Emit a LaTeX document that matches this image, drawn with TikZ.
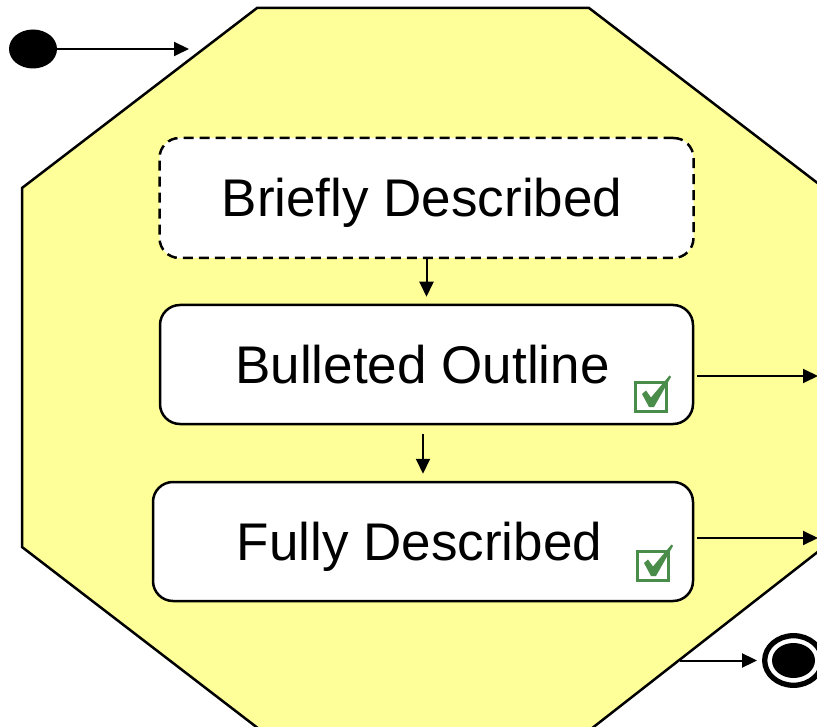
\documentclass[tikz,border=0pt]{standalone}
\usepackage{fontspec}
\setmainfont{Liberation Sans}
\usetikzlibrary{arrows.meta,shapes.geometric,calc}
\definecolor{stateyellow}{RGB}{255,255,153}
\definecolor{chkgreen}{RGB}{74,140,74}
\tikzset{
  statebox/.style={draw, line width=2.5pt, rounded corners=20pt, fill=white, inner sep=0pt},
  statetext/.style={anchor=base, inner sep=0pt, font=\fontsize{53}{60}\selectfont},
  flow/.style={line width=2pt, -{Triangle[length=15pt,width=14pt]}},
  checkbox/.pic={
    \draw[chkgreen, line width=3.3pt] (-15.3,-14.3) rectangle (15.3,14.3);
    \fill[chkgreen] (-9,-3) -- (-5,-6.5) -- (0,0.5) -- (18.5,-21.5) -- (20,-20)
      -- (3,10) -- (-2,10) -- cycle;
  }
}
\begin{document}
\begin{tikzpicture}[x=1pt,y=-1pt]
\useasboundingbox (0,0) rectangle (817,727);
\clip (0,0) rectangle (817,727);

% composite state outline
\draw[line width=2.5pt, fill=stateyellow]
  (257,8) -- (589,8) -- (824,188) -- (824,547) -- (591,729) -- (259,729)
  -- (22,547) -- (22,188) -- cycle;

% substates
\node[statebox, dashed, dash pattern=on 10pt off 6pt,
      minimum width=534pt, minimum height=120pt] (brief) at (426.5,198) {};
\node[statebox, minimum width=533pt, minimum height=119pt] (bull) at (426.5,364.5) {};
\node[statebox, minimum width=540pt, minimum height=119pt] (full) at (423,541.5) {};

\node[statetext] (briefT) at (422,217) {Briefly Described};
\node[statetext] (bullT) at (422.5,384) {Bulleted Outline};
\node[statetext] (fullT) at (419.5,560) {Fully Described};

\pic at (651,397) {checkbox};
\pic at (653,566) {checkbox};

% transitions inside
\draw[flow, shorten >=7pt] (brief.south) -- (bull.north);
\draw[flow, shorten <=9pt, shorten >=7pt] (bull.south -| full.north) -- (full.north);

% exits on the right
\coordinate (exitA) at (818,376);
\coordinate (exitB) at (818,538);
\draw[flow, shorten <=3pt] (bull.east |- exitA) -- (exitA);
\draw[flow, shorten <=3pt] (full.east |- exitB) -- (exitB);

% initial pseudostate
\node[ellipse, fill=black, minimum width=48pt, minimum height=39pt, inner sep=0pt] (init) at (33,49) {};
\coordinate (entry) at (189,49);
\draw[flow] (init.east) -- (entry);

% final state
\node[ellipse, draw, line width=5.3pt, minimum width=57.6pt, minimum height=49.6pt, inner sep=0pt] (final) at (793.5,660.5) {};
\node[ellipse, fill=black, minimum width=43pt, minimum height=35pt, inner sep=0pt] (finalDot) at (final.center) {};
\coordinate (exitC) at (680,660.5);
\draw[flow, shorten >=5pt] (exitC) -- (final.west);
\end{tikzpicture}
\end{document}
